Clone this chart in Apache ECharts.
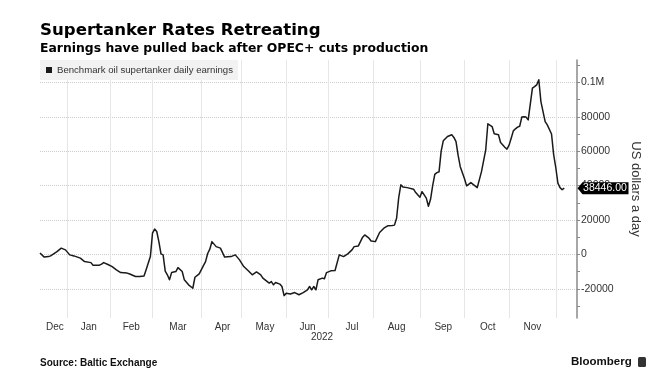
<!DOCTYPE html>
<html><head><meta charset="utf-8">
<script src="https://cdn.jsdelivr.net/npm/echarts@6/dist/echarts.min.js"></script>
<style>html,body{margin:0;padding:0;background:#fff}#c{width:668px;height:392px}</style>
</head><body><div id="c"></div>
<script>
// ---- data ----
const startDate = '2021-12-13';
const endDate = '2022-12-15';
const holidays = ['2021-12-27','2021-12-28','2022-01-03','2022-04-15','2022-04-18','2022-05-02','2022-06-02','2022-06-03','2022-08-29','2022-09-19'];
const xTickLabels = ['Dec','Jan','Feb','Mar','Apr','May','Jun','Jul','Aug','Sep','Oct','Nov'];
const yTickValues = [-20000, 0, 20000, 40000, 60000, 80000, 100000];
const yMinorTickValues = [-30000,-20000,-10000,0,10000,20000,30000,40000,50000,60000,70000,80000,90000,100000,110000];
const sampleDates = [
'2021-12-13','2021-12-15','2021-12-17','2021-12-20','2021-12-23','2021-12-29','2021-12-31',
'2022-01-05','2022-01-07','2022-01-12','2022-01-14','2022-01-19','2022-01-20','2022-01-25','2022-01-26','2022-01-27','2022-01-31',
'2022-02-02','2022-02-04','2022-02-08','2022-02-11','2022-02-14','2022-02-17','2022-02-21','2022-02-23','2022-02-24','2022-02-28',
'2022-03-01','2022-03-02','2022-03-03','2022-03-04','2022-03-07','2022-03-08','2022-03-09','2022-03-10','2022-03-11','2022-03-14','2022-03-16','2022-03-17','2022-03-21','2022-03-22','2022-03-24','2022-03-28','2022-03-29','2022-03-31',
'2022-04-04','2022-04-05','2022-04-06','2022-04-07','2022-04-08','2022-04-12','2022-04-14','2022-04-20','2022-04-25','2022-04-27','2022-04-29',
'2022-05-04','2022-05-06','2022-05-10','2022-05-12','2022-05-16','2022-05-17','2022-05-20','2022-05-23','2022-05-24','2022-05-25','2022-05-27','2022-05-30','2022-05-31',
'2022-06-01','2022-06-07','2022-06-09','2022-06-13','2022-06-15','2022-06-17','2022-06-20','2022-06-21','2022-06-22','2022-06-23','2022-06-24','2022-06-28','2022-06-29','2022-06-30',
'2022-07-04','2022-07-06','2022-07-08','2022-07-12','2022-07-14','2022-07-18','2022-07-19','2022-07-21','2022-07-25','2022-07-26','2022-07-28','2022-07-29',
'2022-08-02','2022-08-04','2022-08-08','2022-08-10','2022-08-12','2022-08-15','2022-08-16','2022-08-17','2022-08-18','2022-08-19','2022-08-23','2022-08-26','2022-08-30',
'2022-09-01','2022-09-02','2022-09-06','2022-09-07','2022-09-08','2022-09-09','2022-09-12','2022-09-13','2022-09-14','2022-09-15','2022-09-16','2022-09-21','2022-09-23','2022-09-26','2022-09-27','2022-09-28','2022-09-29','2022-09-30',
'2022-10-03','2022-10-04','2022-10-06','2022-10-11','2022-10-13','2022-10-17','2022-10-18','2022-10-20','2022-10-21','2022-10-25','2022-10-26','2022-10-28','2022-10-31',
'2022-11-01','2022-11-02','2022-11-03','2022-11-04','2022-11-07','2022-11-08','2022-11-09','2022-11-10','2022-11-11','2022-11-14','2022-11-16','2022-11-17','2022-11-18','2022-11-21','2022-11-22','2022-11-24','2022-11-25','2022-11-29','2022-11-30',
'2022-12-01','2022-12-02','2022-12-05','2022-12-06','2022-12-07'
];
const earnings = [
800,-1600,-1300,-900,1600,3600,2600,
-300,-900,-2200,-4200,-4800,-6300,-6300,-5700,-4800,-5900,
-7100,-9000,-10600,-10900,-11300,-12900,-12900,-12600,-9000,-1300,
12300,14700,13300,7400,300,-300,-9800,-11900,-14800,-10600,-10000,-7700,-10000,-14800,-17700,-19700,-13300,-11300,
-6500,-4200,500,3000,7400,4500,3600,-1600,-1300,-300,-3200,
-7100,-9400,-11900,-10200,-11900,-13800,-16700,-15800,-17700,-16400,-17300,-18700,-24000,
-22600,-23000,-22200,-23500,-22200,-20600,-18700,-20600,-18700,-20600,-14800,-13800,-14200,-10600,
-9600,-9400,-300,-1300,300,2600,4500,4900,10000,11300,9400,7800,
7400,12700,15200,16700,16800,17000,21000,33000,40400,39100,38800,37900,35900,
33200,36500,32700,28000,32000,40000,46500,47500,48000,60000,66000,68500,69500,68000,65500,57500,51000,47500,
44000,39800,41700,38800,48100,60800,75900,74300,70100,69500,65000,62300,61200,
63500,67500,71800,73000,74000,74500,79800,80000,79800,78200,96600,97500,98500,101500,88800,77200,75300,70000,58000,
50500,41400,38800,37600,38446
];

// ---- build category axis (London business days) ----
function ymd(d){return d.toISOString().slice(0,10);}
const categories = [];
for (let d = new Date(startDate+'T00:00:00Z'); ymd(d) <= endDate; d.setUTCDate(d.getUTCDate()+1)) {
  const wd = d.getUTCDay(), s = ymd(d);
  if (wd === 0 || wd === 6 || holidays.indexOf(s) >= 0) continue;
  categories.push(s);
}
const monthStarts = [0];
for (let i = 1; i < categories.length; i++) {
  if (categories[i].slice(0,7) !== categories[i-1].slice(0,7)) monthStarts.push(i);
}
const gridLineIdx = new Set(monthStarts.slice(1));
const labelAt = {};
for (let m = 0; m < monthStarts.length - 1 && m < xTickLabels.length; m++) {
  labelAt[Math.round((monthStarts[m] + monthStarts[m+1]) / 2)] = xTickLabels[m];
}
const seriesData = sampleDates.map((d, i) => [d, earnings[i]]);
const lastPoint = [categories[categories.length-1], earnings[earnings.length-1]];
const yMin = -37000, yMax = 113000;

const chart = echarts.init(document.getElementById('c'), null, {renderer:'canvas'});
chart.setOption({
  animation: false,
  textStyle: {fontFamily: 'Liberation Sans'},
  title: [
    {text:'Supertanker Rates Retreating', left:40, top:22, padding:0,
     textStyle:{fontFamily:'DejaVu Sans', fontWeight:'bold', fontSize:16.6, color:'#000'}},
    {text:'Earnings have pulled back after OPEC+ cuts production', left:40, top:42.5, padding:0,
     textStyle:{fontFamily:'DejaVu Sans', fontWeight:'bold', fontSize:12.4, color:'#000'}},
    {text:'Source: Baltic Exchange', left:40, top:358, padding:0,
     textStyle:{fontFamily:'Liberation Sans', fontWeight:'bold', fontSize:10, color:'#111'}},
    {text:'Bloomberg', left:571, top:356, padding:0,
     textStyle:{fontFamily:'Liberation Sans', fontWeight:'bold', fontSize:11.5, color:'#111'}}
  ],
  graphic: [
    {type:'rect', left:638, top:357, shape:{width:8, height:10, r:1.5}, style:{fill:'#333'}}
  ],
  legend: {
    left:40, top:60, padding:[5,5,5,6], backgroundColor:'#f2f2f2', borderRadius:0,
    itemWidth:6, itemHeight:6, icon:'rect', selectedMode:false,
    textStyle:{fontSize:9.6, color:'#333', fontFamily:'Liberation Sans'},
    data:['Benchmark oil supertanker daily earnings']
  },
  grid: {left:40, right:91, top:60, bottom:74, containLabel:false},
  xAxis: {
    type:'category', data:categories, boundaryGap:false,
    axisLine:{show:false}, axisTick:{show:false},
    axisLabel:{interval:(i)=>labelAt[i]!==undefined, formatter:(v,i)=>labelAt[i]||'',
      color:'#333', fontSize:10, margin:4, hideOverlap:false},
    splitLine:{show:true, interval:(i)=>gridLineIdx.has(i), lineStyle:{color:'#e6e6e6', width:1}},
    name:'2022', nameLocation:'middle', nameGap:14.5, nameMoveOverlap:false,
    nameTextStyle:{color:'#333', fontSize:10, padding:[0,0,0,27]}
  },
  yAxis: [{
    type:'value', position:'right', min:yMin, max:yMax,
    axisLine:{show:true, lineStyle:{color:'#8a8a8a', width:1.5}},
    axisTick:{show:true, customValues:yTickValues, length:3, lineStyle:{color:'#8a8a8a'}},
    axisLabel:{customValues:yTickValues, formatter:(v)=>v===100000?'0.1M':String(v), color:'#333', fontSize:10.5, margin:4},
    splitLine:{show:true, lineStyle:{type:'dotted', color:'#cccccc', width:1}},
    name:'US dollars a day', nameLocation:'middle', nameRotate:-90, nameGap:52,
    nameTextStyle:{fontSize:13, color:'#333'}
  }, {
    type:'value', position:'right', min:yMin, max:yMax,
    axisLine:{show:false},
    axisTick:{show:true, customValues:yMinorTickValues, length:3, lineStyle:{color:'#8a8a8a'}},
    axisLabel:{show:false}, splitLine:{show:false}
  }],
  series: [{
    name:'Benchmark oil supertanker daily earnings', type:'line', data:seriesData, yAxisIndex:0,
    showSymbol:false, symbol:'none', color:'#1a1a1a',
    lineStyle:{color:'#1a1a1a', width:1.5, join:'round'},
    markPoint:{
      symbol:'path://M0,6L5,0H51V12H5Z', symbolSize:[51,12], symbolKeepAspect:false, symbolOffset:[26,0],
      itemStyle:{color:'#000'},
      label:{show:true, position:'inside', offset:[2,0], formatter:()=>lastPoint[1].toFixed(2), color:'#fff', fontSize:10.5},
      data:[{coord:lastPoint}]
    }
  }]
});
</script></body></html>
